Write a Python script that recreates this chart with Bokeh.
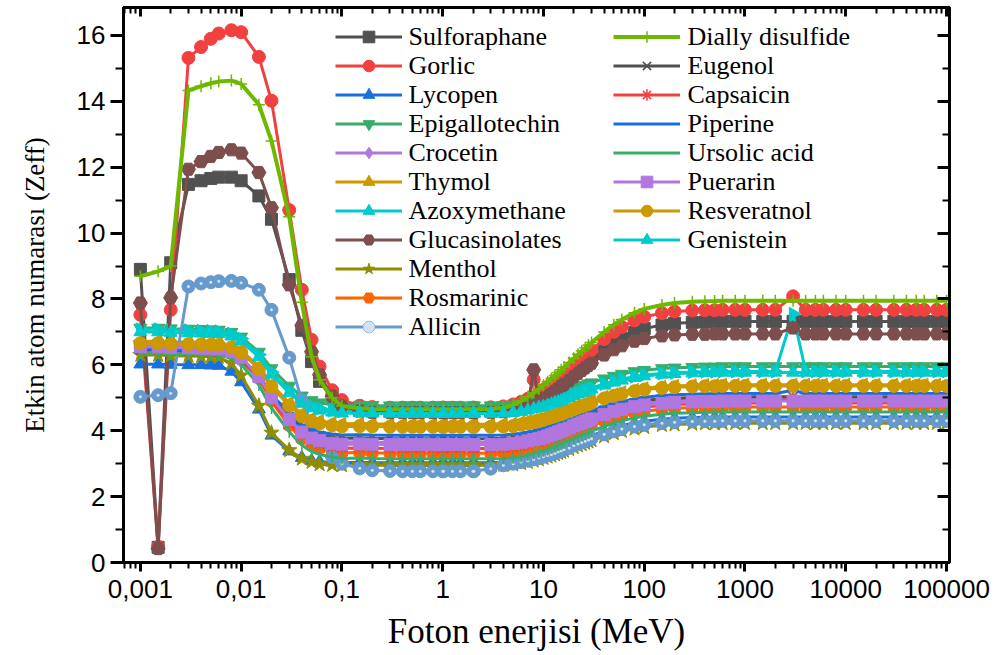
from math import pi

from bokeh.plotting import figure
from bokeh.models import (Range1d, LogAxis, LinearAxis, FixedTicker, SingleIntervalTicker,
                          CustomJSTickFormatter, Legend, LegendItem, Label)
from bokeh.embed import file_html
from bokeh.resources import INLINE

# Photon energies (MeV)
energy = [0.001, 0.0015, 0.002, 0.003, 0.004, 0.005, 0.006, 0.008,
          0.01, 0.015, 0.02, 0.03, 0.04, 0.05, 0.06, 0.08,
          0.1, 0.15, 0.2, 0.3, 0.4, 0.5, 0.6, 0.8,
          1, 1.022, 1.25, 1.5, 2, 2.044, 3, 4,
          5, 6, 7, 8, 9, 10, 11, 12,
          13, 14, 15, 16, 18, 20, 22, 24,
          26, 28, 30, 40, 50, 60, 80, 100,
          150, 200, 300, 400, 500, 600, 800, 1000,
          1500, 2000, 3000, 4000, 5000, 6000, 8000, 10000,
          15000, 20000, 30000, 40000, 50000, 60000, 80000, 100000]

# Effective atomic number of each compound
sulforaphane = [8.90, 0.46, 9.10, 11.48, 11.59, 11.66, 11.70, 11.70,
                11.59, 11.13, 10.42, 8.59, 7.05, 6.10, 5.50, 4.98,
                4.75, 4.64, 4.61, 4.60, 4.60, 4.60, 4.60, 4.60,
                4.60, 4.60, 4.60, 4.60, 4.60, 4.60, 4.61, 4.64,
                4.69, 4.76, 4.84, 4.91, 4.99, 5.07, 5.15, 5.23,
                5.30, 5.37, 5.43, 5.50, 5.62, 5.74, 5.84, 5.93,
                6.01, 6.09, 6.16, 6.45, 6.66, 6.81, 6.99, 7.10,
                7.21, 7.26, 7.29, 7.30, 7.31, 7.32, 7.32, 7.32,
                7.32, 7.32, 7.32, 7.32, 7.32, 7.32, 7.32, 7.32,
                7.32, 7.32, 7.32, 7.32, 7.32, 7.32, 7.32, 7.32]
gorlic = [7.52, 0.48, 7.67, 15.32, 15.65, 15.90, 16.06, 16.16,
          16.10, 15.35, 14.02, 10.70, 8.28, 6.76, 5.95, 5.23,
          4.93, 4.76, 4.72, 4.70, 4.70, 4.70, 4.70, 4.70,
          4.70, 4.70, 4.70, 4.70, 4.70, 4.70, 4.71, 4.74,
          4.80, 4.88, 4.97, 5.55, 5.15, 5.24, 5.33, 5.42,
          5.50, 5.58, 5.65, 5.72, 5.85, 5.98, 6.09, 6.19,
          6.28, 6.37, 6.45, 6.78, 7.00, 7.15, 7.35, 7.46,
          7.57, 7.62, 7.65, 7.66, 7.66, 7.67, 7.67, 7.67,
          7.67, 7.67, 8.08, 7.67, 7.67, 7.67, 7.67, 7.67,
          7.67, 7.67, 7.67, 7.67, 7.67, 7.67, 7.67, 7.67]
lycopen = [6.02, 6.02, 6.01, 6.00, 6.00, 5.99, 5.98, 5.80,
           5.48, 4.65, 3.86, 3.38, 3.18, 3.09, 3.06, 3.04,
           3.03, 3.04, 3.03, 3.03, 3.03, 3.03, 3.03, 3.03,
           3.03, 3.03, 3.03, 3.03, 3.03, 3.03, 3.03, 3.04,
           3.06, 3.10, 3.14, 3.18, 3.22, 3.27, 3.31, 3.35,
           3.39, 3.43, 3.46, 3.50, 3.56, 3.63, 3.68, 3.73,
           3.77, 3.81, 3.85, 3.99, 4.09, 4.16, 4.24, 4.29,
           4.35, 4.38, 4.40, 4.41, 4.41, 4.42, 4.42, 4.42,
           4.42, 4.42, 4.42, 4.42, 4.42, 4.42, 4.42, 4.42,
           4.42, 4.42, 4.42, 4.42, 4.42, 4.42, 4.42, 4.42]
epigallotechin = [7.12, 7.12, 7.10, 7.09, 7.08, 7.07, 7.06, 6.99,
                  6.85, 6.39, 5.89, 5.36, 5.06, 4.92, 4.85, 4.79,
                  4.77, 4.78, 4.77, 4.76, 4.76, 4.76, 4.76, 4.76,
                  4.76, 4.76, 4.76, 4.76, 4.76, 4.76, 4.76, 4.77,
                  4.78, 4.82, 4.86, 4.89, 4.93, 4.96, 5.00, 5.03,
                  5.07, 5.11, 5.13, 5.16, 5.21, 5.27, 5.32, 5.36,
                  5.39, 5.43, 5.46, 5.58, 5.66, 5.72, 5.80, 5.84,
                  5.89, 5.91, 5.93, 5.94, 5.94, 5.95, 5.95, 5.95,
                  5.95, 5.95, 5.95, 5.95, 5.95, 5.95, 5.95, 5.95,
                  5.95, 5.95, 5.95, 5.95, 5.95, 5.95, 5.95, 5.95]
crocetin = [6.42, 6.42, 6.40, 6.39, 6.38, 6.37, 6.36, 6.28,
            6.12, 5.57, 4.98, 4.35, 4.00, 3.84, 3.76, 3.69,
            3.66, 3.67, 3.66, 3.65, 3.65, 3.65, 3.65, 3.65,
            3.65, 3.65, 3.65, 3.65, 3.65, 3.65, 3.65, 3.66,
            3.68, 3.72, 3.75, 3.79, 3.83, 3.87, 3.91, 3.95,
            3.99, 4.03, 4.05, 4.09, 4.14, 4.21, 4.26, 4.30,
            4.34, 4.38, 4.42, 4.55, 4.64, 4.70, 4.78, 4.83,
            4.89, 4.91, 4.93, 4.94, 4.94, 4.95, 4.95, 4.95,
            4.95, 4.95, 4.95, 4.95, 4.95, 4.95, 4.95, 4.95,
            4.95, 4.95, 4.95, 4.95, 4.95, 4.95, 4.95, 4.95]
thymol = [6.72, 6.72, 6.70, 6.69, 6.68, 6.67, 6.66, 6.59,
          6.44, 5.95, 5.41, 4.84, 4.52, 4.37, 4.30, 4.24,
          4.21, 4.22, 4.21, 4.20, 4.20, 4.20, 4.20, 4.20,
          4.20, 4.20, 4.20, 4.20, 4.20, 4.20, 4.20, 4.21,
          4.22, 4.26, 4.30, 4.33, 4.37, 4.40, 4.44, 4.48,
          4.51, 4.55, 4.57, 4.61, 4.66, 4.72, 4.76, 4.80,
          4.84, 4.87, 4.91, 5.03, 5.11, 5.17, 5.24, 5.29,
          5.34, 5.36, 5.38, 5.39, 5.39, 5.40, 5.40, 5.40,
          5.40, 5.40, 5.40, 5.40, 5.40, 5.40, 5.40, 5.40,
          5.40, 5.40, 5.40, 5.40, 5.40, 5.40, 5.40, 5.40]
azoxymethane = [7.08, 7.08, 7.06, 7.05, 7.04, 7.03, 7.02, 6.95,
                6.80, 6.31, 5.78, 5.21, 4.90, 4.75, 4.68, 4.62,
                4.59, 4.60, 4.59, 4.58, 4.58, 4.58, 4.58, 4.58,
                4.58, 4.58, 4.58, 4.58, 4.58, 4.58, 4.58, 4.59,
                4.60, 4.64, 4.68, 4.71, 4.75, 4.79, 4.82, 4.86,
                4.90, 4.93, 4.96, 4.99, 5.04, 5.10, 5.15, 5.19,
                5.23, 5.26, 5.30, 5.42, 5.51, 5.57, 5.64, 5.69,
                5.74, 5.76, 5.78, 5.79, 5.79, 5.80, 5.80, 5.80,
                5.80, 5.80, 7.55, 5.80, 5.80, 5.80, 5.80, 5.80,
                5.80, 5.80, 5.80, 5.80, 5.80, 5.80, 5.80, 5.80]
glucasinolates = [7.88, 0.42, 8.04, 11.94, 12.17, 12.33, 12.45, 12.53,
                  12.43, 11.84, 10.77, 8.43, 7.20, 6.40, 5.70, 5.05,
                  4.75, 4.60, 4.56, 4.55, 4.55, 4.55, 4.55, 4.55,
                  4.55, 4.55, 4.55, 4.55, 4.55, 4.55, 4.56, 4.58,
                  4.62, 4.68, 4.75, 5.85, 4.90, 4.97, 5.05, 5.13,
                  5.20, 5.27, 5.34, 5.40, 5.52, 5.64, 5.74, 5.83,
                  5.91, 5.98, 6.05, 6.30, 6.46, 6.58, 6.72, 6.80,
                  6.88, 6.91, 6.93, 6.93, 6.94, 6.94, 6.94, 6.94,
                  6.94, 6.94, 7.12, 6.94, 6.94, 6.94, 6.94, 6.94,
                  6.94, 6.94, 6.94, 6.94, 6.94, 6.94, 6.94, 6.94]
menthol = [6.30, 6.30, 6.28, 6.27, 6.26, 6.25, 6.24, 6.04,
           5.68, 4.76, 3.94, 3.41, 3.15, 3.05, 2.98, 2.96,
           2.95, 2.96, 2.95, 2.95, 2.95, 2.95, 2.95, 2.95,
           2.95, 2.95, 2.95, 2.95, 2.95, 2.95, 2.95, 2.96,
           2.98, 3.01, 3.05, 3.09, 3.13, 3.17, 3.21, 3.24,
           3.28, 3.32, 3.35, 3.39, 3.44, 3.50, 3.55, 3.59,
           3.63, 3.67, 3.71, 3.83, 3.92, 3.99, 4.06, 4.11,
           4.17, 4.19, 4.21, 4.22, 4.22, 4.23, 4.23, 4.23,
           4.23, 4.23, 4.23, 4.23, 4.23, 4.23, 4.23, 4.23,
           4.23, 4.23, 4.23, 4.23, 4.23, 4.23, 4.23, 4.23]
rosmarinic = [6.58, 6.58, 6.56, 6.55, 6.54, 6.53, 6.52, 6.42,
              6.23, 5.59, 4.89, 4.15, 3.74, 3.54, 3.45, 3.37,
              3.33, 3.34, 3.33, 3.32, 3.32, 3.32, 3.32, 3.32,
              3.32, 3.32, 3.32, 3.32, 3.32, 3.32, 3.32, 3.33,
              3.35, 3.39, 3.43, 3.47, 3.52, 3.56, 3.60, 3.64,
              3.68, 3.73, 3.75, 3.80, 3.85, 3.92, 3.98, 4.02,
              4.06, 4.10, 4.15, 4.29, 4.38, 4.45, 4.54, 4.59,
              4.65, 4.68, 4.70, 4.71, 4.71, 4.72, 4.72, 4.72,
              4.72, 4.72, 4.72, 4.72, 4.72, 4.72, 4.72, 4.72,
              4.72, 4.72, 4.72, 4.72, 4.72, 4.72, 4.72, 4.72]
allicin = [5.03, 5.08, 5.14, 8.38, 8.47, 8.51, 8.54, 8.55,
           8.49, 8.28, 7.67, 6.22, 4.92, 4.20, 3.70, 3.20,
           3.00, 2.86, 2.80, 2.78, 2.77, 2.77, 2.77, 2.77,
           2.77, 2.77, 2.77, 2.77, 2.77, 2.77, 2.85, 2.95,
           3.00, 3.05, 3.09, 3.13, 3.17, 3.21, 3.25, 3.28,
           3.32, 3.36, 3.39, 3.43, 3.48, 3.55, 3.60, 3.64,
           3.68, 3.72, 3.76, 3.89, 3.98, 4.05, 4.13, 4.18,
           4.23, 4.26, 4.28, 4.29, 4.29, 4.30, 4.30, 4.30,
           4.30, 4.30, 4.30, 4.30, 4.30, 4.30, 4.30, 4.30,
           4.30, 4.30, 4.30, 4.30, 4.30, 4.30, 4.30, 4.30]
dially_disulfide = [8.69, 8.84, 9.00, 14.33, 14.46, 14.55, 14.60, 14.63,
                    14.53, 13.90, 12.80, 10.50, 7.90, 6.25, 5.55, 5.00,
                    4.75, 4.68, 4.66, 4.65, 4.65, 4.65, 4.65, 4.65,
                    4.65, 4.65, 4.65, 4.65, 4.65, 4.65, 4.66, 4.70,
                    4.78, 4.90, 5.03, 5.15, 5.27, 5.38, 5.49, 5.59,
                    5.68, 5.77, 5.85, 5.93, 6.07, 6.20, 6.32, 6.42,
                    6.52, 6.60, 6.68, 7.00, 7.22, 7.38, 7.58, 7.70,
                    7.82, 7.88, 7.92, 7.93, 7.94, 7.95, 7.95, 7.95,
                    7.95, 7.95, 7.95, 7.95, 7.95, 7.95, 7.95, 7.95,
                    7.95, 7.95, 7.95, 7.95, 7.95, 7.95, 7.95, 7.95]
eugenol = [6.45, 6.45, 6.43, 6.42, 6.41, 6.40, 6.39, 6.31,
           6.15, 5.63, 5.05, 4.44, 4.10, 3.94, 3.87, 3.80,
           3.77, 3.78, 3.77, 3.76, 3.76, 3.76, 3.76, 3.76,
           3.76, 3.76, 3.76, 3.76, 3.76, 3.76, 3.76, 3.77,
           3.79, 3.82, 3.86, 3.90, 3.94, 3.98, 4.01, 4.05,
           4.09, 4.13, 4.15, 4.19, 4.24, 4.31, 4.36, 4.40,
           4.43, 4.47, 4.51, 4.64, 4.73, 4.79, 4.86, 4.92,
           4.97, 4.99, 5.01, 5.02, 5.02, 5.03, 5.03, 5.03,
           5.03, 5.03, 5.03, 5.03, 5.03, 5.03, 5.03, 5.03,
           5.03, 5.03, 5.03, 5.03, 5.03, 5.03, 5.03, 5.03]
capsaicin = [6.52, 6.52, 6.50, 6.49, 6.48, 6.47, 6.46, 6.37,
             6.19, 5.59, 4.93, 4.24, 3.85, 3.67, 3.58, 3.50,
             3.47, 3.48, 3.47, 3.46, 3.46, 3.46, 3.46, 3.46,
             3.46, 3.46, 3.46, 3.46, 3.46, 3.46, 3.46, 3.47,
             3.49, 3.53, 3.57, 3.80, 3.65, 3.69, 3.74, 3.78,
             3.82, 3.86, 3.89, 3.93, 3.98, 4.05, 4.11, 4.15,
             4.19, 4.23, 4.27, 4.41, 4.51, 4.58, 4.66, 4.72,
             4.77, 4.80, 4.82, 4.83, 4.83, 4.84, 4.84, 4.84,
             4.84, 4.84, 5.03, 4.84, 4.84, 4.84, 4.84, 4.84,
             4.84, 4.84, 4.84, 4.84, 4.84, 4.84, 4.84, 4.84]
piperine = [6.48, 6.48, 6.46, 6.45, 6.44, 6.43, 6.42, 6.34,
            6.19, 5.68, 5.11, 4.53, 4.19, 4.04, 3.96, 3.90,
            3.87, 3.88, 3.87, 3.86, 3.86, 3.86, 3.86, 3.86,
            3.86, 3.86, 3.86, 3.86, 3.86, 3.86, 3.86, 3.87,
            3.89, 3.92, 3.96, 4.00, 4.04, 4.08, 4.11, 4.15,
            4.19, 4.23, 4.25, 4.29, 4.34, 4.41, 4.46, 4.50,
            4.53, 4.57, 4.61, 4.74, 4.83, 4.89, 4.96, 5.02,
            5.07, 5.09, 5.11, 5.12, 5.12, 5.13, 5.13, 5.13,
            5.13, 5.13, 5.23, 5.13, 5.13, 5.13, 5.13, 5.13,
            5.13, 5.13, 5.13, 5.13, 5.13, 5.13, 5.13, 5.13]
ursolic_acid = [6.36, 6.36, 6.34, 6.33, 6.32, 6.31, 6.30, 6.21,
                6.02, 5.39, 4.69, 3.97, 3.56, 3.37, 3.28, 3.20,
                3.16, 3.17, 3.16, 3.15, 3.15, 3.15, 3.15, 3.15,
                3.15, 3.15, 3.15, 3.15, 3.15, 3.15, 3.15, 3.16,
                3.18, 3.22, 3.26, 3.31, 3.35, 3.39, 3.43, 3.48,
                3.52, 3.56, 3.59, 3.63, 3.69, 3.76, 3.82, 3.86,
                3.90, 3.95, 3.99, 4.13, 4.23, 4.30, 4.39, 4.44,
                4.50, 4.53, 4.55, 4.56, 4.56, 4.57, 4.57, 4.57,
                4.57, 4.57, 4.57, 4.57, 4.57, 4.57, 4.57, 4.57,
                4.57, 4.57, 4.57, 4.57, 4.57, 4.57, 4.57, 4.57]
puerarin = [6.55, 6.55, 6.53, 6.52, 6.51, 6.50, 6.49, 6.40,
            6.23, 5.65, 5.01, 4.34, 3.96, 3.78, 3.70, 3.62,
            3.59, 3.60, 3.59, 3.58, 3.58, 3.58, 3.58, 3.58,
            3.58, 3.58, 3.58, 3.58, 3.58, 3.58, 3.58, 3.59,
            3.61, 3.65, 3.69, 3.73, 3.76, 3.80, 3.84, 3.88,
            3.92, 3.96, 3.99, 4.03, 4.08, 4.15, 4.20, 4.24,
            4.28, 4.32, 4.36, 4.49, 4.58, 4.65, 4.73, 4.78,
            4.83, 4.86, 4.88, 4.89, 4.89, 4.90, 4.90, 4.90,
            4.90, 4.90, 4.90, 4.90, 4.90, 4.90, 4.90, 4.90,
            4.90, 4.90, 4.90, 4.90, 4.90, 4.90, 4.90, 4.90]
resveratnol = [6.66, 6.66, 6.64, 6.63, 6.62, 6.61, 6.60, 6.53,
               6.38, 5.88, 5.34, 4.76, 4.44, 4.29, 4.22, 4.16,
               4.13, 4.14, 4.13, 4.12, 4.12, 4.12, 4.12, 4.12,
               4.12, 4.12, 4.12, 4.12, 4.12, 4.12, 4.12, 4.13,
               4.14, 4.18, 4.22, 4.26, 4.29, 4.33, 4.37, 4.41,
               4.44, 4.48, 4.50, 4.54, 4.59, 4.65, 4.70, 4.74,
               4.78, 4.81, 4.85, 4.98, 5.06, 5.12, 5.20, 5.25,
               5.30, 5.32, 5.34, 5.35, 5.35, 5.36, 5.36, 5.36,
               5.36, 5.36, 5.36, 5.36, 5.36, 5.36, 5.36, 5.36,
               5.36, 5.36, 5.36, 5.36, 5.36, 5.36, 5.36, 5.36]
genistein = [7.00, 7.00, 6.98, 6.97, 6.96, 6.95, 6.94, 6.87,
             6.72, 6.24, 5.71, 5.15, 4.83, 4.69, 4.62, 4.56,
             4.53, 4.54, 4.53, 4.52, 4.52, 4.52, 4.52, 4.52,
             4.52, 4.52, 4.52, 4.52, 4.52, 4.52, 4.52, 4.53,
             4.55, 4.58, 4.62, 4.66, 4.70, 4.73, 4.77, 4.81,
             4.85, 4.88, 4.91, 4.95, 5.00, 5.06, 5.11, 5.15,
             5.18, 5.22, 5.26, 5.38, 5.47, 5.53, 5.61, 5.66,
             5.71, 5.73, 5.75, 5.76, 5.76, 5.77, 5.77, 5.77,
             5.77, 5.77, 5.77, 5.77, 5.77, 5.77, 5.77, 5.77,
             5.77, 5.77, 5.77, 5.77, 5.77, 5.77, 5.77, 5.77]

names = ["Sulforaphane", "Gorlic", "Lycopen", "Epigallotechin", "Crocetin", "Thymol",
         "Azoxymethane", "Glucasinolates", "Menthol", "Rosmarinic", "Allicin",
         "Dially disulfide", "Eugenol", "Capsaicin", "Piperine", "Ursolic acid",
         "Puerarin", "Resveratnol", "Genistein"]
values = [sulforaphane, gorlic, lycopen, epigallotechin, crocetin, thymol,
          azoxymethane, glucasinolates, menthol, rosmarinic, allicin,
          dially_disulfide, eugenol, capsaicin, piperine, ursolic_acid,
          puerarin, resveratnol, genistein]

x_ticks = [0.001, 0.01, 0.1, 1, 10, 100, 1000, 10000, 100000]

# line colour, marker, marker size, marker angle, filled marker?
GRAY, RED, BLUE, GREEN = "#515151", "#F14040", "#1A6FDF", "#37AD6B"
PURPLE, GOLD, CYAN = "#B177DE", "#CC9900", "#00CBCC"
styles = [
    (GRAY, "square", 12, 0, True),
    (RED, "circle", 13, 0, True),
    (BLUE, "triangle", 13, 0, True),
    (GREEN, "inverted_triangle", 13, 0, True),
    (PURPLE, "diamond", 15, 0, True),
    (GOLD, "triangle", 13, pi / 2, True),
    (CYAN, "triangle", 13, -pi / 2, True),
    ("#7D4E4E", "hex", 14, 0, True),
    ("#8E8E00", "star", 16, 0, True),
    ("#FB6501", "hex", 13, pi / 2, True),
    ("#6699CC", "circle", 13, 0, True),
    ("#6FB802", "cross", 12, 0, False),
    (GRAY, "x", 12, 0, False),
    (RED, "asterisk", 13, 0, False),
    (BLUE, "dash", 12, 0, False),
    (GREEN, "dash", 12, pi / 2, False),
    (PURPLE, "square", 12, 0, True),
    (GOLD, "circle", 13, 0, True),
    (CYAN, "triangle", 13, 0, True),
]

SERIF = '"Liberation Serif"'
ROW = 29      # legend row pitch in px
FRAME_BOTTOM = 562

p = figure(width=998, height=655, x_axis_type="log",
           x_range=Range1d(6.8e-4, 1.07e5), y_range=Range1d(0, 16.85),
           output_backend="svg", toolbar_location=None,
           min_border_left=123, min_border_right=49,
           min_border_top=7, min_border_bottom=93)
p.xgrid.visible = False
p.ygrid.visible = False
p.outline_line_color = "black"
p.outline_line_width = 3
p.background_fill_color = "white"
p.border_fill_color = "white"

minor_x = [m * 10.0 ** k for k in range(-4, 5) for m in range(2, 10)]
x_ticker = FixedTicker(ticks=x_ticks, minor_ticks=minor_x)
y_ticker = SingleIntervalTicker(interval=2, num_minor_ticks=2)

fmt = CustomJSTickFormatter(code="""
    return tick < 1 ? tick.toString().replace('.', ',') : tick.toFixed(0);
""")
blank = CustomJSTickFormatter(code="return '';")

xa = p.xaxis[0]
xa.ticker = x_ticker
xa.formatter = fmt
ya = p.yaxis[0]
ya.ticker = y_ticker

for ax, out_len in ((xa, 9), (ya, 13)):
    ax.axis_line_width = 3
    ax.major_tick_line_width = 3
    ax.minor_tick_line_width = 2
    ax.major_tick_out = out_len
    ax.major_tick_in = 0
    ax.minor_tick_out = 6 if ax is xa else 8
    ax.minor_tick_in = 0
    ax.major_label_text_font = "Liberation Sans"
    ax.major_label_text_font_size = "26px"
    ax.major_label_text_color = "black"
    ax.axis_label_text_font = "serif"
    ax.axis_label_text_font_style = "normal"
    ax.axis_label_text_color = "black"
xa.major_label_standoff = 8
ya.major_label_standoff = 5

xa.axis_label = "Foton enerjisi (MeV)"
xa.axis_label_text_font_size = "35px"
xa.axis_label_standoff = 11

ya.axis_label = "Etkin atom numarası (Zeff)"
ya.axis_label_text_font_size = "27px"
ya.axis_label_standoff = 24

top = LogAxis(ticker=x_ticker, formatter=blank, major_label_standoff=0,
              major_label_text_font_size="2px",
              axis_line_width=3, major_tick_line_width=3, minor_tick_line_width=2,
              major_tick_in=9, major_tick_out=0, minor_tick_in=6, minor_tick_out=0)
right = LinearAxis(ticker=y_ticker, formatter=blank, major_label_standoff=0,
                   major_label_text_font_size="2px",
                   axis_line_width=3, major_tick_line_width=3, minor_tick_line_width=2,
                   major_tick_in=12, major_tick_out=0, minor_tick_in=7, minor_tick_out=0)
p.add_layout(top, "above")
p.add_layout(right, "right")

items = []
for name, ys, (color, marker, size, angle, filled) in zip(names, values, styles):
    lw = 4 if name == "Dially disulfide" else 3
    line_r = p.line(energy, ys, line_color=color, line_width=lw)
    if filled:
        sc = p.scatter(energy, ys, marker=marker, size=size, angle=angle,
                       fill_color=color, line_color=color, line_width=1)
    else:
        sc = p.scatter(energy, ys, marker=marker, size=size, angle=angle,
                       line_color=color, line_width=1.5)
    rends = [line_r, sc]
    if name == "Allicin":
        shine = p.scatter(energy, ys, marker="circle", size=3,
                          fill_color="#d4e3f3", line_color=None)
        rends.append(shine)
    # legend keys only; the names are set as serif labels beside them
    items.append(LegendItem(label=" ", renderers=rends))


def make_legend(its, x, y):
    return Legend(items=its, location=(x, y), orientation="vertical",
                  glyph_width=67, glyph_height=ROW, label_height=10,
                  label_standoff=0, spacing=0, padding=0, margin=0,
                  border_line_alpha=0, background_fill_alpha=0,
                  label_text_font_size="10px")


col1, col2 = items[:11], items[11:]
first_row = FRAME_BOTTOM - 36   # frame-relative y of the first legend row centre
p.add_layout(make_legend(col1, 212, first_row + ROW / 2 - len(col1) * ROW), "center")
p.add_layout(make_legend(col2, 490, first_row + ROW / 2 - len(col2) * ROW), "center")

for k, name in enumerate(names):
    col_x = 285 if k < 11 else 564
    r = k if k < 11 else k - 11
    p.add_layout(Label(x=col_x, y=first_row - r * ROW, x_units="screen", y_units="screen",
                       text=name, text_align="left", text_baseline="middle",
                       text_font=SERIF, text_font_size="26px", text_color="black"))

open("out.html", "w").write(file_html(p, INLINE))
